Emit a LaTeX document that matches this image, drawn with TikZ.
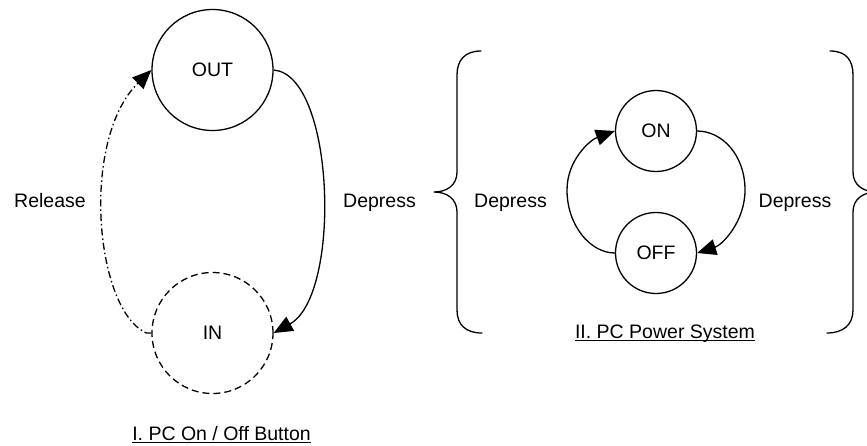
\documentclass[tikz,border=0pt]{standalone}
\usepackage{fontspec}
\setmainfont{Liberation Sans}
\usetikzlibrary{arrows.meta}
% underline placed just under the baseline, crossing descenders
\newcommand\undl[1]{\setbox0=\hbox{#1}\rlap{\rule[-3pt]{\wd0}{1pt}}\box0}
\begin{document}
\begin{tikzpicture}[x=1pt,y=-1pt,line width=1.3pt,
  >={Triangle[length=19pt,width=16pt]},
  every node/.style={font=\fontsize{19.5}{23}\selectfont},
  bigstate/.style={circle,draw,minimum size=121pt,inner sep=0pt},
  smallstate/.style={circle,draw,minimum size=81pt,inner sep=0pt},
  dashedstate/.style={dash pattern=on 7pt off 4pt},
  releaseline/.style={dash pattern=on 7pt off 3pt on 1.5pt off 3pt},
  lbl/.style={anchor=base,inner sep=0pt},
  bracepath/.style={line join=round,line cap=round}]
\clip (0,0) rectangle (867,445);

% button states
\node[bigstate] (out) at (212.5,70) {OUT};
\node[bigstate,dashedstate] (in) at (212.5,333) {IN};

% power states
\node[smallstate] (on) at (656,131) {ON};
\node[smallstate] (off) at (656,253) {OFF};

% labels
\node[lbl] (release) at (50,207) {Release};
\node[lbl] (dep1) at (379.5,207) {Depress};
\node[lbl] (dep2) at (510.5,207) {Depress};
\node[lbl] (dep3) at (795,207) {Depress};
\node[lbl] (cap1) at (221.5,440) {\undl{I. PC On / Off Button}};
\node[lbl] (cap2) at (665,338) {\undl{II. PC Power System}};

% button transitions
\draw[releaseline,->] (in.west) -- ++(-5,0)
  .. controls (95,310) and (80,140) .. (out.west);
\draw[->] (out.east) .. controls (335,75) and (342,295) .. (in.east);

% power transitions
\draw[->] (off.west) .. controls (590,253) and (567,225) .. (567,190)
  .. controls (567,160) and (590,140) .. (on.west);
\draw[->] (on.east) .. controls (722,131) and (745,155) .. (745,190)
  .. controls (745,222) and (722,245) .. (off.east);

% left curly brace
\draw[bracepath] (481,51) .. controls (465,51) and (457,60) .. (457,75)
  -- (457,172) .. controls (457,185) and (447,192) .. (434,192)
  .. controls (447,192) and (457,199) .. (457,212)
  -- (457,310) .. controls (457,325) and (466,333) .. (482,333);

% right curly brace
\draw[bracepath] (830,51) .. controls (846,51) and (853,60) .. (853,75)
  -- (853,172) .. controls (853,185) and (863,192) .. (877,192)
  .. controls (863,192) and (853,199) .. (853,212)
  -- (853,310) .. controls (853,325) and (843,333) .. (827,333);
\end{tikzpicture}
\end{document}
